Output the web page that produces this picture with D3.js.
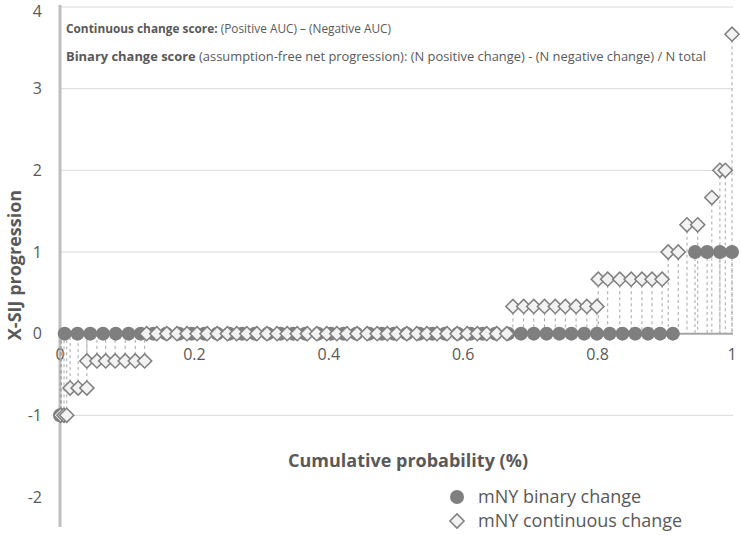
<!DOCTYPE html>
<html>
<head>
<meta charset="utf-8">
<script src="https://cdn.jsdelivr.net/npm/d3@7"></script>
<style>
  body { margin: 0; background: #fff; }
  text { font-family: "Open Sans", "Noto Sans", sans-serif; fill: #595959; }
</style>
</head>
<body>
<script>
// cumulative probability (x) and change score (y) for each series
var binaryProb = [0.0, 0.002,
  0.007, 0.026, 0.045, 0.064, 0.083, 0.102, 0.120, 0.139, 0.158, 0.177,
  0.196, 0.215, 0.234, 0.252, 0.271, 0.290, 0.309, 0.328, 0.347, 0.365,
  0.384, 0.403, 0.422, 0.441, 0.460, 0.479, 0.497, 0.516, 0.535, 0.554,
  0.573, 0.592, 0.611, 0.629, 0.648, 0.667, 0.686, 0.705, 0.724, 0.743,
  0.761, 0.780, 0.799, 0.818, 0.837, 0.856, 0.875, 0.893, 0.912,
  0.945, 0.963, 0.982, 1.0];
var binaryValue = [-1, -1,
  0, 0, 0, 0, 0, 0, 0, 0, 0, 0,
  0, 0, 0, 0, 0, 0, 0, 0, 0, 0,
  0, 0, 0, 0, 0, 0, 0, 0, 0, 0,
  0, 0, 0, 0, 0, 0, 0, 0, 0, 0,
  0, 0, 0, 0, 0, 0, 0, 0, 0,
  1, 1, 1, 1];

var contProb = [0.001, 0.006, 0.010,
  0.015, 0.027, 0.040,
  0.040, 0.055, 0.068, 0.082, 0.097, 0.112, 0.126,
  0.129, 0.144, 0.159, 0.174, 0.189, 0.204, 0.219, 0.234, 0.249, 0.263,
  0.278, 0.293, 0.308, 0.323, 0.338, 0.353, 0.368, 0.382, 0.397, 0.412,
  0.427, 0.442, 0.457, 0.472, 0.487, 0.501, 0.516, 0.531, 0.546, 0.561,
  0.576, 0.591, 0.606, 0.621, 0.635, 0.650, 0.665,
  0.674, 0.690, 0.705, 0.721, 0.737, 0.752, 0.768, 0.784, 0.799,
  0.801, 0.815, 0.833, 0.850, 0.866, 0.881, 0.896,
  0.905, 0.920,
  0.933, 0.949,
  0.970,
  0.982, 0.990,
  1.0];
var contValue = [-1, -1, -1,
  -2/3, -2/3, -2/3,
  -1/3, -1/3, -1/3, -1/3, -1/3, -1/3, -1/3,
  0, 0, 0, 0, 0, 0, 0, 0, 0, 0,
  0, 0, 0, 0, 0, 0, 0, 0, 0, 0,
  0, 0, 0, 0, 0, 0, 0, 0, 0, 0,
  0, 0, 0, 0, 0, 0, 0,
  1/3, 1/3, 1/3, 1/3, 1/3, 1/3, 1/3, 1/3, 1/3,
  2/3, 2/3, 2/3, 2/3, 2/3, 2/3, 2/3,
  1, 1,
  4/3, 4/3,
  5/3,
  2, 2,
  11/3];

var xTicks = [0, 0.2, 0.4, 0.6, 0.8, 1];
var yTicks = [-2, -1, 0, 1, 2, 3, 4];
var seriesNames = ["mNY binary change", "mNY continuous change"];

var width = 741, height = 535;

var x = d3.scaleLinear().domain([0, 1]).range([60, 732]);
var y = d3.scaleLinear().domain([-2, 4]).range([497, 7]);

var svg = d3.select("body").append("svg")
    .attr("width", width)
    .attr("height", height);

// gridlines (none at 0 or -2)
svg.append("g").selectAll("line")
    .data(yTicks.filter(function(d) { return d !== 0 && d !== -2; }))
  .enter().append("line")
    .attr("x1", x(0)).attr("x2", x(1) + 1)
    .attr("y1", function(d) { return y(d); })
    .attr("y2", function(d) { return y(d); })
    .attr("stroke", "#d9d9d9")
    .attr("stroke-width", 1);

// y axis line
svg.append("line")
    .attr("x1", x(0)).attr("x2", x(0))
    .attr("y1", y(4) - 2).attr("y2", 527)
    .attr("stroke", "#bfbfbf")
    .attr("stroke-width", 3);

// zero line
svg.append("line")
    .attr("x1", x(0)).attr("x2", x(1) + 1)
    .attr("y1", y(0)).attr("y2", y(0))
    .attr("stroke", "#a6a6a6")
    .attr("stroke-width", 2);

// y tick labels
svg.append("g").selectAll("text")
    .data(yTicks)
  .enter().append("text")
    .attr("x", 42)
    .attr("y", function(d) { return Math.max(y(d), 11); })
    .attr("dy", "0.35em")
    .attr("text-anchor", "end")
    .style("font-size", "16px")
    .text(function(d) { return d; });

// x tick labels
svg.append("g").selectAll("text")
    .data(xTicks)
  .enter().append("text")
    .attr("x", function(d) { return x(d); })
    .attr("y", y(0) + 21)
    .attr("dy", "0.35em")
    .attr("text-anchor", "middle")
    .style("font-size", "16px")
    .text(function(d) { return d; });

var binary = binaryProb.map(function(p, i) { return {p: p, v: binaryValue[i]}; });
var cont = contProb.map(function(p, i) { return {p: p, v: contValue[i]}; });

// drop lines to the zero line
svg.append("g").selectAll("line")
    .data(binary.concat(cont).filter(function(d) { return d.v !== 0; }))
  .enter().append("line")
    .attr("x1", function(d) { return x(d.p); })
    .attr("x2", function(d) { return x(d.p); })
    .attr("y1", function(d) { return y(d.v); })
    .attr("y2", y(0))
    .attr("stroke", "#a6a6a6")
    .attr("stroke-width", 1)
    .attr("stroke-dasharray", "3,3");

// binary circles
svg.append("g").selectAll("circle")
    .data(binary)
  .enter().append("circle")
    .attr("cx", function(d) { return x(d.p); })
    .attr("cy", function(d) { return y(d.v); })
    .attr("r", 7)
    .attr("fill", "#7f7f7f");

// continuous diamonds
var diamond = d3.symbol().type(d3.symbolSquare).size(100);
svg.append("g").selectAll("path")
    .data(cont)
  .enter().append("path")
    .attr("d", diamond)
    .attr("transform", function(d) {
      return "translate(" + x(d.p) + "," + y(d.v) + ") rotate(45)";
    })
    .attr("fill", "#f2f2f2")
    .attr("stroke", "#7f7f7f")
    .attr("stroke-width", 1.5);

// annotation text
var note1 = svg.append("text").attr("x", 66).attr("y", 33).style("font-size", "13px")
    .attr("textLength", 325).attr("lengthAdjust", "spacingAndGlyphs");
note1.append("tspan").style("font-weight", "bold").text("Continuous change score:");
note1.append("tspan").text(" (Positive AUC) \u2013 (Negative AUC)");

var note2 = svg.append("text").attr("x", 66).attr("y", 61).style("font-size", "13px")
    .attr("textLength", 640).attr("lengthAdjust", "spacingAndGlyphs");
note2.append("tspan").style("font-weight", "bold").text("Binary change score");
note2.append("tspan").text(" (assumption-free net progression): (N positive change) - (N negative change) / N total");

// axis titles
svg.append("text")
    .attr("transform", "translate(15," + 265 + ") rotate(-90)")
    .attr("text-anchor", "middle")
    .attr("dy", "0.35em")
    .style("font-size", "18px")
    .style("font-weight", "bold")
    .text("X-SIJ progression");

svg.append("text")
    .attr("x", 408)
    .attr("y", 461)
    .attr("dy", "0.35em")
    .attr("text-anchor", "middle")
    .style("font-size", "18px")
    .style("font-weight", "bold")
    .text("Cumulative probability (%)");

// legend
var legend = svg.append("g");
legend.append("circle")
    .attr("cx", 457).attr("cy", 497).attr("r", 7)
    .attr("fill", "#7f7f7f");
legend.append("path")
    .attr("d", diamond)
    .attr("transform", "translate(457,521) rotate(45)")
    .attr("fill", "#f2f2f2")
    .attr("stroke", "#7f7f7f")
    .attr("stroke-width", 1.5);
legend.selectAll("text")
    .data(seriesNames)
  .enter().append("text")
    .attr("x", 478)
    .attr("y", function(d, i) { return 497 + i * 24; })
    .attr("dy", "0.35em")
    .style("font-size", "18px")
    .text(function(d) { return d; });
</script>
</body>
</html>
